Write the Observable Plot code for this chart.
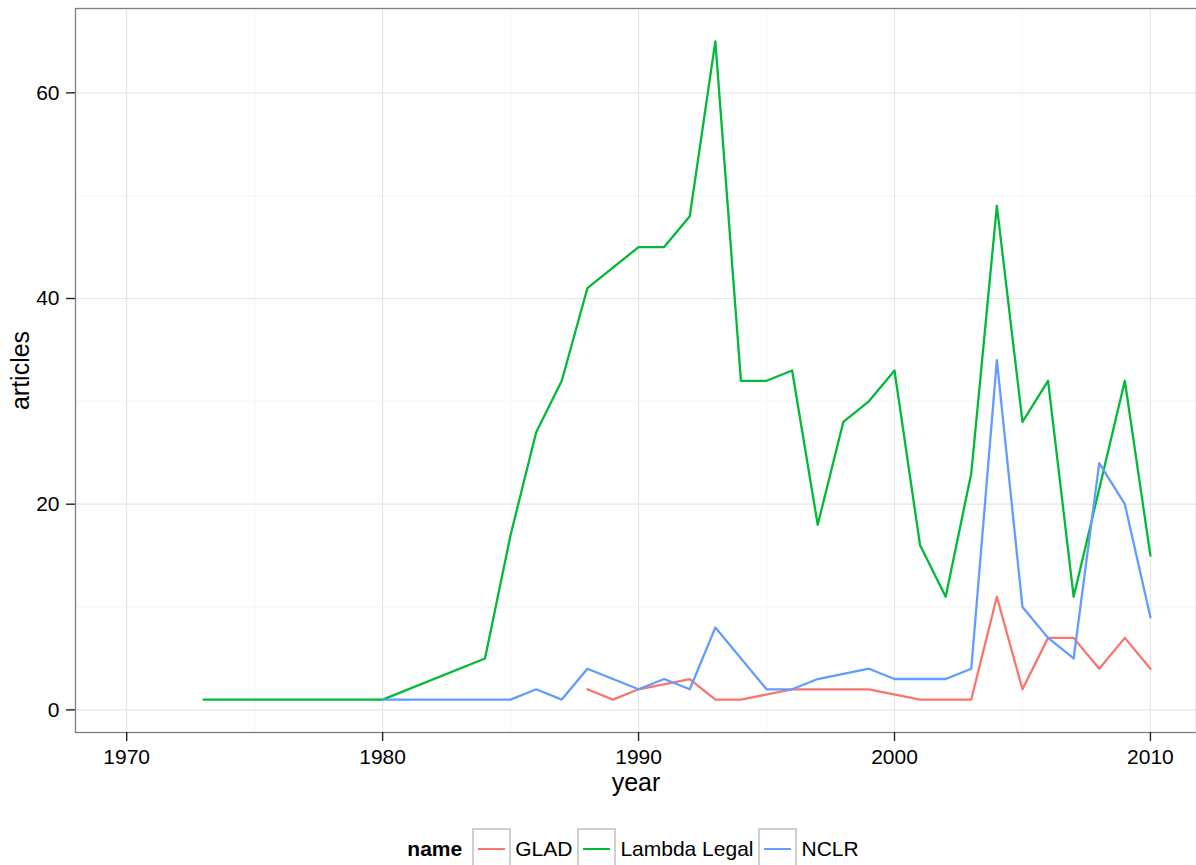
<!DOCTYPE html>
<html>
<head>
<meta charset="utf-8">
<script src="https://cdn.jsdelivr.net/npm/d3@7"></script>
<script src="https://cdn.jsdelivr.net/npm/@observablehq/plot@0.6"></script>
<style>
  html, body { margin: 0; padding: 0; background: #fff; width: 1196px; height: 865px; overflow: hidden; }
  body { font-family: "Liberation Sans", Arial, sans-serif; }
  #legend { position: relative; height: 45px; margin-left: 75px; width: 1121px; display: flex; justify-content: center; align-items: flex-start; padding-top: 8px; }
  .ltitle { font-weight: bold; font-size: 21px; height: 38px; line-height: 42px; margin-right: 10px; }
  .lkey { height: 36px; border: 2px solid #cfcfcf; position: relative; box-sizing: content-box; width: 35px; }
  .lkey span { position: absolute; left: 4px; right: 4px; top: 18px; height: 2px; }
  .llab { font-size: 21px; height: 38px; line-height: 42px; margin-left: 4px; margin-right: 5px; }
</style>
</head>
<body>
<div id="chart"></div>
<div id="legend"></div>
<script>
// Data
const names = ["GLAD", "Lambda Legal", "NCLR"];
const colors = ["#F8766D", "#00BA38", "#619CFF"];

const gladYears    = [1988, 1989, 1990, 1992, 1993, 1994, 1996, 1999, 2001, 2003, 2004, 2005, 2006, 2007, 2008, 2009, 2010];
const gladArticles = [2,    1,    2,    3,    1,    1,    2,    2,    1,    1,    11,   2,    7,    7,    4,    7,    4];

const lambdaYears    = [1973, 1980, 1984, 1985, 1986, 1987, 1988, 1990, 1991, 1992, 1993, 1994, 1995, 1996, 1997, 1998, 1999, 2000, 2001, 2002, 2003, 2004, 2005, 2006, 2007, 2009, 2010];
const lambdaArticles = [1,    1,    5,    17,   27,   32,   41,   45,   45,   48,   65,   32,   32,   33,   18,   28,   30,   33,   16,   11,   23,   49,   28,   32,   11,   32,   15];

const nclrYears    = [1980, 1985, 1986, 1987, 1988, 1990, 1991, 1992, 1993, 1995, 1996, 1997, 1999, 2000, 2002, 2003, 2004, 2005, 2006, 2007, 2008, 2009, 2010];
const nclrArticles = [1,    1,    2,    1,    4,    2,    3,    2,    8,    2,    2,    3,    4,    3,    3,    4,    34,   10,   7,    5,    24,   20,   9];

const xTicks = [1970, 1980, 1990, 2000, 2010];
const xMinor = [1975, 1985, 1995, 2005];
const yTicks = [0, 20, 40, 60];
const yMinor = [10, 30, 50];

const series = [
  [names[0], gladYears, gladArticles],
  [names[1], lambdaYears, lambdaArticles],
  [names[2], nclrYears, nclrArticles]
];
const data = series.flatMap(([name, ys, vs]) => ys.map((year, i) => ({name, year, articles: vs[i]})));

const chart = Plot.plot({
  width: 1196,
  height: 820,
  marginLeft: 75,
  marginRight: 0,
  marginTop: 8,
  marginBottom: 88,
  style: { fontFamily: "Liberation Sans, Arial, sans-serif", fontSize: "21px", color: "#000", background: "#fff" },
  x: { domain: [1968, 2011.8], label: null },
  y: { domain: [-2.2, 68.2], label: null },
  color: { domain: names, range: colors },
  marks: [
    Plot.ruleY(yMinor, { stroke: "#f7f7f7", strokeWidth: 1.2 }),
    Plot.ruleX(xMinor, { stroke: "#f7f7f7", strokeWidth: 1.2 }),
    Plot.ruleY(yTicks, { stroke: "#e6e6e6", strokeWidth: 1.2 }),
    Plot.ruleX(xTicks, { stroke: "#e6e6e6", strokeWidth: 1.2 }),
    Plot.line(data, { x: "year", y: "articles", stroke: "name", z: "name", strokeWidth: 2.3 }),
    Plot.frame({ stroke: "#7f7f7f", strokeWidth: 1.3 }),
    Plot.axisX({ ticks: xTicks, tickFormat: d => String(d), tickSize: 9, tickPadding: 8, stroke: "#222", strokeWidth: 1.4, fontSize: 21, label: null }),
    Plot.axisY({ ticks: yTicks, tickFormat: d => String(d), tickSize: 9, tickPadding: 7, stroke: "#222", strokeWidth: 1.4, fontSize: 21, label: null }),
    Plot.text(["year"], { frameAnchor: "bottom", dy: 50, lineAnchor: "middle", fontSize: 25, fill: "#000" }),
    Plot.text(["articles"], { frameAnchor: "left", dx: -55, rotate: -90, textAnchor: "middle", lineAnchor: "middle", fontSize: 25, fill: "#000" })
  ]
});
document.getElementById("chart").appendChild(chart);

// Legend
const legend = document.getElementById("legend");
const t = document.createElement("div");
t.className = "ltitle";
t.textContent = "name";
legend.appendChild(t);
names.forEach((n, i) => {
  const k = document.createElement("div");
  k.className = "lkey";
  const s = document.createElement("span");
  s.style.background = colors[i];
  k.appendChild(s);
  legend.appendChild(k);
  const l = document.createElement("div");
  l.className = "llab";
  l.textContent = n;
  legend.appendChild(l);
});
</script>
</body>
</html>
